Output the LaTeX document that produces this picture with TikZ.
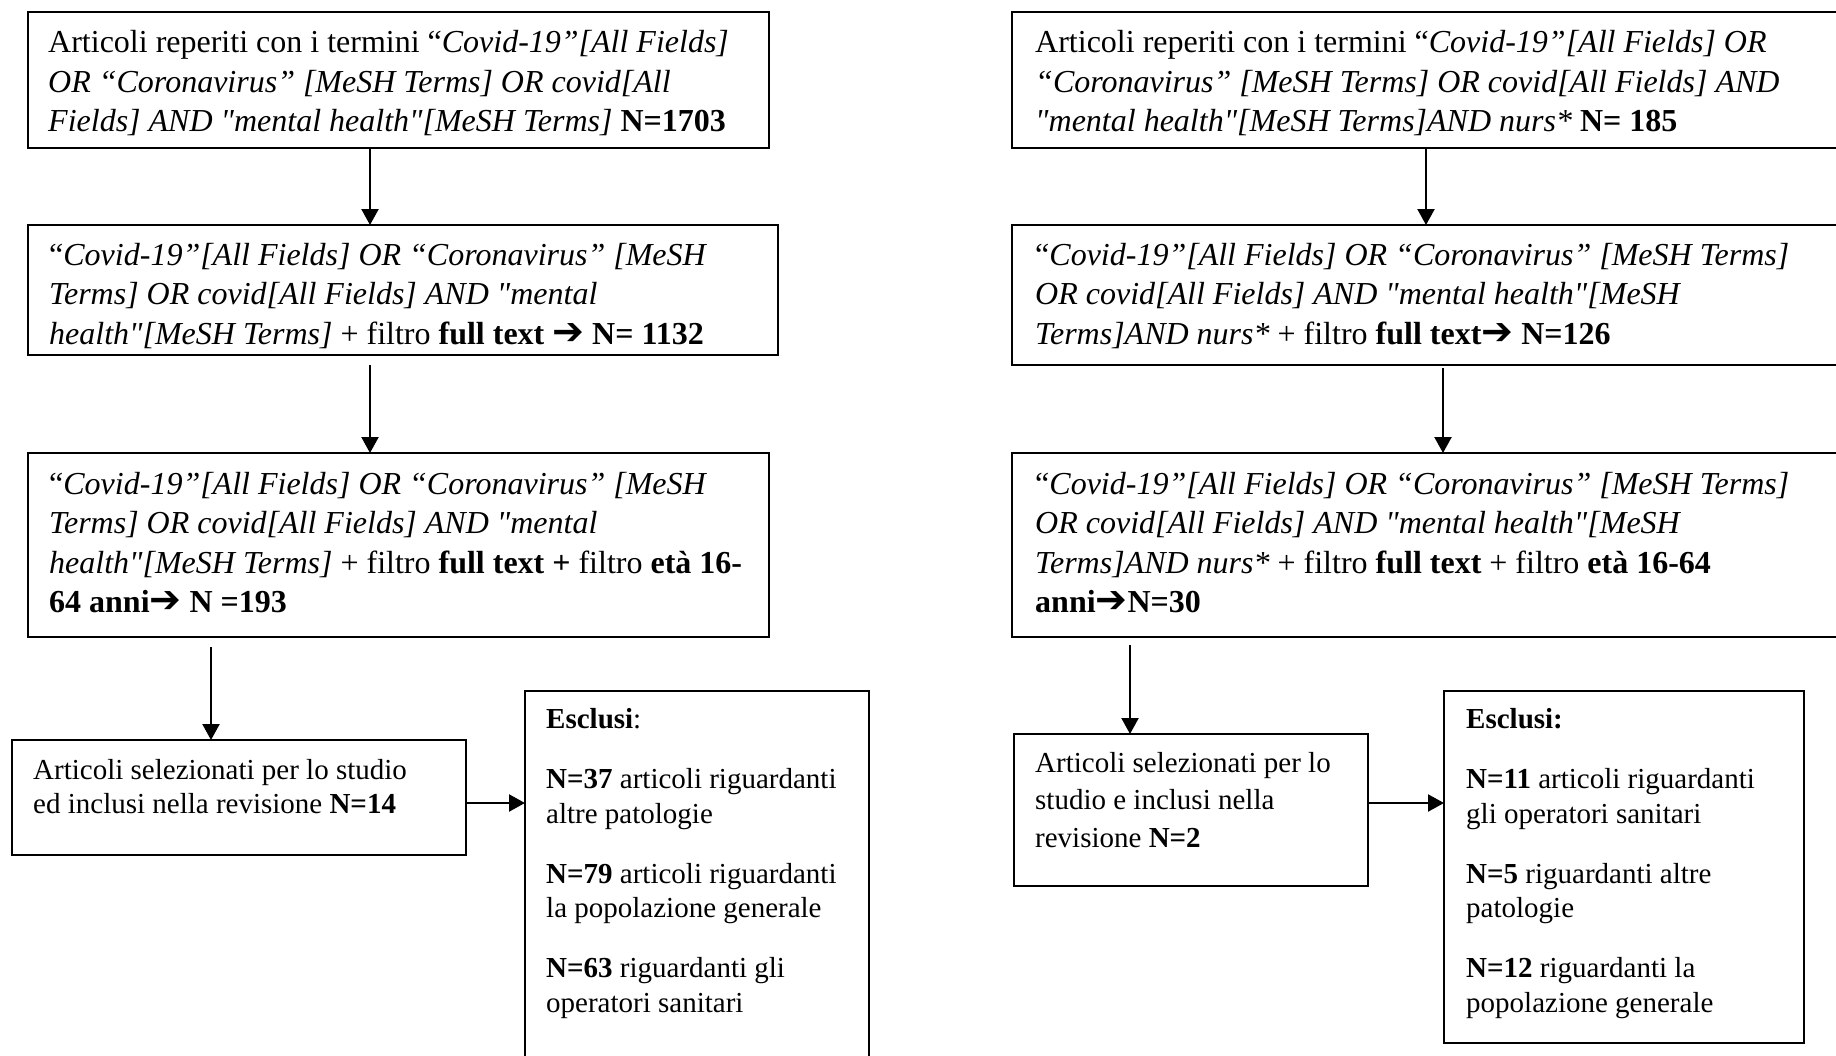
\documentclass[tikz,border=0pt]{standalone}
\usepackage{fontspec}
\setmainfont{Liberation Serif}[Ligatures=TeXOff]
\newfontfamily\arrowfont{DejaVu Sans}
\usetikzlibrary{arrows.meta}
\newcommand{\rarr}{{\arrowfont\fontsize{38}{38}\selectfont ➔}}
\newcommand{\firststrut}{\rule{0pt}{30pt}}
\begin{document}
\begin{tikzpicture}[x=1pt,y=-1pt,
  frame/.style={draw, line width=2pt, inner sep=0pt, outer sep=0pt, anchor=north west},
  bigtxt/.style={anchor=north west, inner sep=0pt, align=left, font=\fontsize{32}{39.5}\selectfont},
  smalltxt/.style={anchor=north west, inner sep=0pt, align=left, font=\fontsize{29}{34.5}\selectfont},
  arr/.style={line width=2.2pt, -{Triangle[length=16pt,width=17pt]}}]
\useasboundingbox (0,0) rectangle (1836,1055);
\fill[white] (0,0) rectangle (1836,1055);

% ---------- left column ----------
\node[frame, minimum width=741, minimum height=136] (b1) at (28,12) {};
\node[bigtxt] (b1t) at (48,22.7) {\firststrut Articoli reperiti con i termini “\textit{Covid-19”[All Fields]}\\
\textit{OR “Coronavirus” [MeSH Terms] OR covid[All}\\
\textit{Fields] AND "mental health"[MeSH Terms]} \textbf{N=1703}};

\node[frame, minimum width=750, minimum height=130] (b2) at (28,225) {};
\node[bigtxt] (b2t) at (49,235) {\firststrut “\textit{Covid-19”[All Fields] OR “Coronavirus” [MeSH}\\
\textit{Terms] OR covid[All Fields] AND "mental}\\
\textit{health"[MeSH Terms]} + filtro \textbf{full text \rarr{} N= 1132}};

\node[frame, minimum width=741, minimum height=184] (b3) at (28,453) {};
\node[bigtxt] (b3t) at (49,464) {\firststrut “\textit{Covid-19”[All Fields] OR “Coronavirus” [MeSH}\\
\textit{Terms] OR covid[All Fields] AND "mental}\\
\textit{health"[MeSH Terms]} + filtro \textbf{full text +} filtro \textbf{età 16-}\\
\textbf{64 anni\rarr{} N =193}};

\node[frame, minimum width=454, minimum height=115] (b4) at (12,740) {};
\node[smalltxt] (b4t) at (33,749) {\firststrut Articoli selezionati per lo studio\\
ed inclusi nella revisione \textbf{N=14}};

\node[frame, minimum width=344, minimum height=420] (b5) at (525,691) {};
\node[smalltxt] (b5t) at (546,698.3) {\firststrut\textbf{Esclusi}:\\[25.5pt]
\textbf{N=37} articoli riguardanti\\
altre patologie\\[25.5pt]
\textbf{N=79} articoli riguardanti\\
la popolazione generale\\[25.5pt]
\textbf{N=63} riguardanti gli\\
operatori sanitari};

\draw[arr] ([xshift=342pt]b1.south west) -- ([xshift=342pt]b2.north west);
\draw[arr, shorten <=10pt] ([xshift=342pt]b2.south west) -- ([xshift=342pt]b3.north west);
\draw[arr, shorten <=10pt] ([xshift=183pt]b3.south west) -- ([xshift=199pt]b4.north west);
\draw[arr] ([yshift=-5.5pt]b4.east) -- ([yshift=-5.5pt]b4.east -| b5.west);

% ---------- right column ----------
\node[frame, minimum width=900, minimum height=136] (r1) at (1012,12) {};
\node[bigtxt] (r1t) at (1035,22.7) {\firststrut Articoli reperiti con i termini “\textit{Covid-19”[All Fields] OR}\\
\textit{“Coronavirus” [MeSH Terms] OR covid[All Fields] AND}\\
\textit{"mental health"[MeSH Terms]AND nurs*} \textbf{N= 185}};

\node[frame, minimum width=900, minimum height=140] (r2) at (1012,225) {};
\node[bigtxt] (r2t) at (1035,235) {\firststrut “\textit{Covid-19”[All Fields] OR “Coronavirus” [MeSH Terms]}\\
\textit{OR covid[All Fields] AND "mental health"[MeSH}\\
\textit{Terms]AND nurs*} + filtro \textbf{full text\rarr{} N=126}};

\node[frame, minimum width=900, minimum height=184] (r3) at (1012,453) {};
\node[bigtxt] (r3t) at (1035,464) {\firststrut “\textit{Covid-19”[All Fields] OR “Coronavirus” [MeSH Terms]}\\
\textit{OR covid[All Fields] AND "mental health"[MeSH}\\
\textit{Terms]AND nurs*} + filtro \textbf{full text} + filtro \textbf{età 16-64}\\
\textbf{anni\rarr{}N=30}};

\node[frame, minimum width=354, minimum height=152] (r4) at (1014,734) {};
\node[smalltxt, font=\fontsize{29}{37.5}\selectfont] (r4t) at (1035,742) {\firststrut Articoli selezionati per lo\\
studio e inclusi nella\\
revisione \textbf{N=2}};

\node[frame, minimum width=360, minimum height=352] (r5) at (1444,691) {};
\node[smalltxt] (r5t) at (1466,698.3) {\firststrut\textbf{Esclusi:}\\[25.5pt]
\textbf{N=11} articoli riguardanti\\
gli operatori sanitari\\[25.5pt]
\textbf{N=5} riguardanti altre\\
patologie\\[25.5pt]
\textbf{N=12} riguardanti la\\
popolazione generale};

\draw[arr] ([xshift=414pt]r1.south west) -- ([xshift=414pt]r2.north west);
\draw[arr, shorten <=3pt] ([xshift=431pt]r2.south west) -- ([xshift=431pt]r3.north west);
\draw[arr, shorten <=8pt] ([xshift=118pt]r3.south west) -- ([xshift=116pt]r4.north west);
\draw[arr] ([yshift=7pt]r4.east) -- ([yshift=7pt]r4.east -| r5.west);
\end{tikzpicture}
\end{document}
